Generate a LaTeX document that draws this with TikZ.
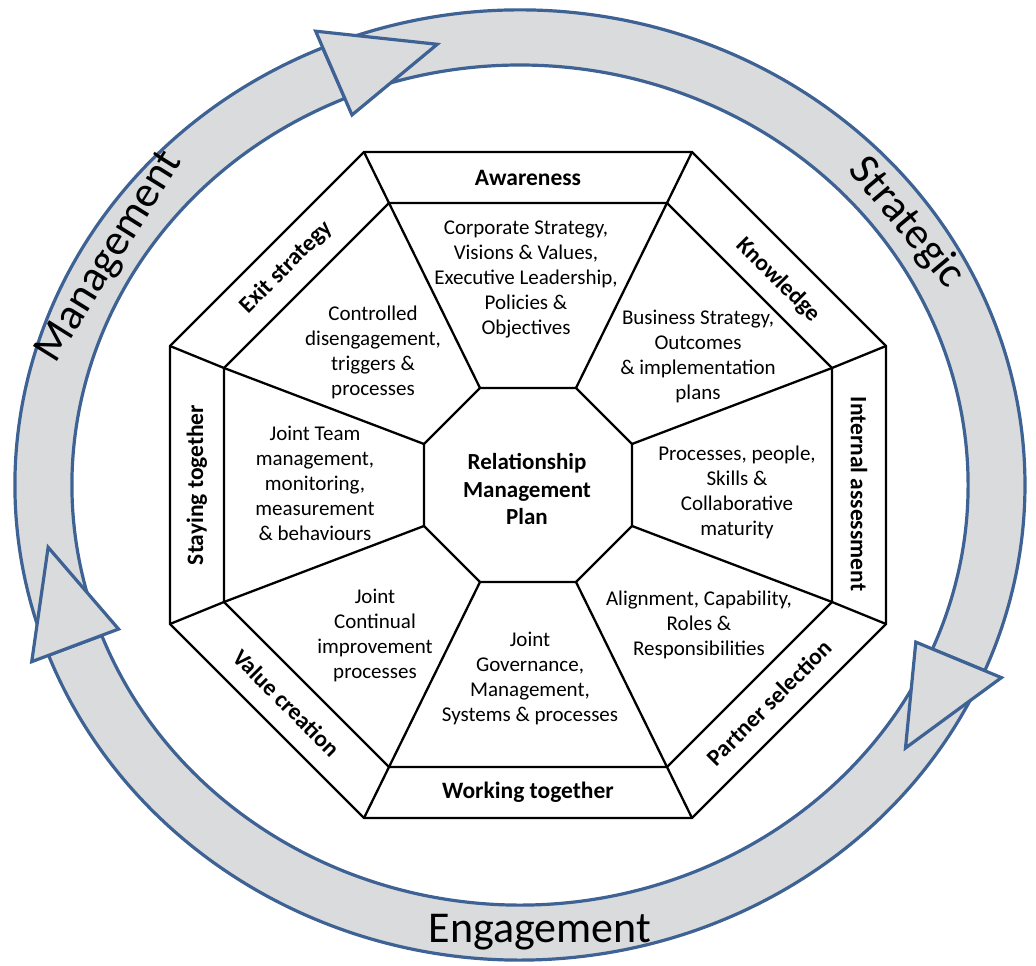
\documentclass[tikz,border=0pt]{standalone}
\usepackage{fontspec}
\setmainfont{Carlito}
\usetikzlibrary{calc}
\definecolor{ringblue}{RGB}{62,98,148}
\definecolor{ringgrey}{RGB}{218,219,221}
\tikzstyle{ringband}=[draw=ringblue,fill=ringgrey,line width=3.2pt]
\tikzstyle{octline}=[draw=black,line width=2.3pt]
\tikzstyle{sector}=[align=center,inner sep=0pt,font=\fontsize{21}{25}\selectfont]
\tikzstyle{centre}=[align=center,inner sep=0pt,font=\fontsize{23}{27.5}\selectfont\bfseries]
\tikzstyle{bandlabel}=[inner sep=0pt,font=\fontsize{23.5}{26}\selectfont\bfseries]
\tikzstyle{ringlabel}=[inner sep=0pt,font=\fontsize{44}{50}\selectfont]
\pgfmathsetmacro{\rox}{505} % outer radii of the ring
\pgfmathsetmacro{\roy}{475}
\pgfmathsetmacro{\rix}{448} % inner radii of the ring
\pgfmathsetmacro{\riy}{420}
\pgfmathsetmacro{\rmx}{(\rox+\rix)/2}
\pgfmathsetmacro{\rmy}{(\roy+\riy)/2}
\pgfmathsetmacro{\wing}{18} % how far the arrow heads stick out of the ring
\pgfmathsetmacro{\hox}{\rox+\wing}
\pgfmathsetmacro{\hoy}{\roy+\wing}
\pgfmathsetmacro{\hix}{\rix-\wing}
\pgfmathsetmacro{\hiy}{\riy-\wing}
\newcommand{\octcorners}[4]{% Syntax: {name}{half width}{half height}{corner cut}
\coordinate (#11) at ({-(#2-#4)},{-#3});
\coordinate (#12) at ({#2-#4},{-#3});
\coordinate (#13) at ({#2},{-(#3-#4)});
\coordinate (#14) at ({#2},{#3-#4});
\coordinate (#15) at ({#2-#4},{#3});
\coordinate (#16) at ({-(#2-#4)},{#3});
\coordinate (#17) at ({-#2},{#3-#4});
\coordinate (#18) at ({-#2},{-(#3-#4)});
}
\def\ept(#1:#2:#3){({#2*cos(#1)},{#3*sin(#1)})} % Syntax: (angle:x radius:y radius), point on the ring
\newcommand{\ringarrow}[2]{% Syntax: {start angle}{end angle}, clockwise on the page
\draw[ringband] \ept(#1:\rox:\roy) arc[start angle=#1,end angle=#2,x radius=\rox,y radius=\roy]
  -- \ept(#2:\rix:\riy) arc[start angle=#2,end angle=#1,x radius=\rix,y radius=\riy] -- cycle;
}
\newcommand{\ringhead}[2]{% Syntax: {base angle}{tip angle}
\draw[ringband] \ept(#1:\hox:\hoy) -- \ept(#2:\rmx:\rmy) -- \ept(#1:\hix:\hiy) -- cycle;
}

\begin{document}
\begin{tikzpicture}[x=1pt,y=-1pt]
  \useasboundingbox (-528,-485) rectangle (508,481);
  \begin{scope}[shift={(-8,0)}]
    \ringarrow{162}{247} % management
    \ringarrow{250}{383} % strategic
    \ringarrow{26}{159}  % engagement
    \ringhead{247}{260}
    \ringhead{383}{396}
    \ringhead{159}{172}
    \node[ringlabel,rotate=58] (management) at \ept(210.6:\rmx:\rmy) {Management};
    \node[ringlabel,rotate=-50] (strategic) at \ept(324.2:\rmx:\rmy) {Strategic};
    \node[ringlabel] (engagement) at \ept(87.6:\rmx:\rmy) {Engagement};
  \end{scope}

  \octcorners{o}{358}{333}{194}
  \octcorners{m}{304}{282}{165}
  \octcorners{c}{104}{97}{56}
  \draw[octline] (o1) \foreach \i in {2,...,8}{-- (o\i)} -- cycle;
  \draw[octline] (m1) \foreach \i in {2,...,8}{-- (m\i)} -- cycle;
  \draw[octline] (c1) \foreach \i in {2,...,8}{-- (c\i)} -- cycle;
  \foreach \i in {1,...,8}
    \draw[octline] (c\i) -- (m\i) -- (o\i);

  \node[bandlabel] (awareness) at ($0.25*(o1)+0.25*(o2)+0.25*(m1)+0.25*(m2)$) {Awareness};
  \node[bandlabel,rotate=-45] (knowledge) at ($0.25*(o2)+0.25*(o3)+0.25*(m2)+0.25*(m3)+(9,13)$) {Knowledge};
  \node[bandlabel,rotate=-90] (internal) at ($0.25*(o3)+0.25*(o4)+0.25*(m3)+0.25*(m4)+(0,9)$) {Internal assessment};
  \node[bandlabel,rotate=45] (partner) at ($0.25*(o4)+0.25*(o5)+0.25*(m4)+0.25*(m5)$) {Partner selection};
  \node[bandlabel] (working) at ($0.25*(o5)+0.25*(o6)+0.25*(m5)+0.25*(m6)$) {Working together};
  \node[bandlabel,rotate=-45] (value) at ($0.25*(o6)+0.25*(o7)+0.25*(m6)+0.25*(m7)$) {Value creation};
  \node[bandlabel,rotate=90] (staying) at ($0.25*(o7)+0.25*(o8)+0.25*(m7)+0.25*(m8)$) {Staying together};
  \node[bandlabel,rotate=45] (exit) at ($0.25*(o8)+0.25*(o1)+0.25*(m8)+0.25*(m1)$) {Exit strategy};

  \node[sector] (corporate) at (-2,-206) {Corporate Strategy,\\Visions \& Values,\\Executive Leadership,\\Policies \&\\Objectives};
  \node[sector] (business) at (170,-129) {Business Strategy,\\Outcomes\\\& implementation\\plans};
  \node[sector] (processes) at (209,7) {Processes, people,\\Skills \&\\Collaborative\\maturity};
  \node[sector] (alignment) at (171,140) {Alignment, Capability,\\Roles \&\\Responsibilities};
  \node[sector] (governance) at (2,193) {Joint\\Governance,\\Management,\\Systems \& processes};
  \node[sector] (continual) at (-153,150) {Joint\\Continual\\improvement\\processes};
  \node[sector] (team) at (-213,-2) {Joint Team\\management,\\monitoring,\\measurement\\\& behaviours};
  \node[sector] (controlled) at (-155,-133) {Controlled\\disengagement,\\triggers \&\\processes};
  \node[centre] (plan) at (-1,4) {Relationship\\Management\\Plan};
\end{tikzpicture}
\end{document}
